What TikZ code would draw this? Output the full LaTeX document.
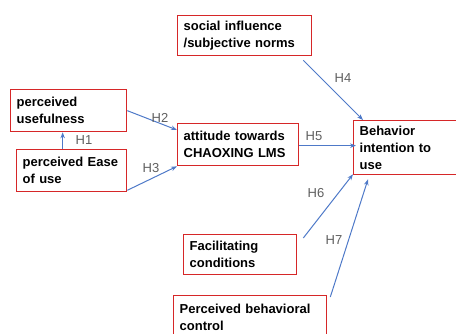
\documentclass[tikz,border=0pt]{standalone}
\usepackage{fontspec}
\setmainfont{Liberation Sans}
\usetikzlibrary{arrows.meta,calc}
\definecolor{boxred}{RGB}{214,39,40}
\definecolor{arrblue}{RGB}{78,121,200}
\definecolor{labgray}{RGB}{95,95,95}
\tikzset{
  box/.style={draw=boxred, line width=1.3pt, rectangle, anchor=north west, align=left,
    inner xsep=6pt, inner ysep=2pt, font=\bfseries\fontsize{13}{17}\selectfont, text=black},
  conn/.style={draw=arrblue, line width=1pt, -{Stealth[length=6pt,width=4.5pt]}},
  hlab/.style={text=labgray, font=\fontsize{13}{15}\selectfont, inner sep=0pt}
}
\begin{document}
\begin{tikzpicture}[x=1pt,y=-1pt]
\useasboundingbox (0,0) rectangle (456,333);
\clip (0,0) rectangle (456,333);
\node[box, text width=122pt, minimum height=40pt] (si) at (177,15) {social influence\\/subjective norms};
\node[box, text width=104pt, minimum height=42pt] (pu) at (10,89) {perceived\\usefulness};
\node[box, text width=98pt, minimum height=42pt] (pe) at (16,149) {perceived Ease\\of use};
\node[box, text width=109pt, minimum height=42pt] (at) at (177,123) {attitude towards\\CHAOXING LMS};
\node[box, text width=108pt, minimum height=54pt] (bi) at (353,120) {Behavior\\intention to\\use};
\node[box, text width=101pt, minimum height=40pt] (fc) at (183,234) {Facilitating\\conditions};
\node[box, text width=141pt, minimum height=44pt] (pb) at (173,295) {Perceived behavioral\\control};

\draw[conn] ([xshift=-9pt]pe.north) -- ([xshift=-9pt]pe.north |- pu.south);
\draw[conn] (pu.east) -- ([yshift=-7pt]at.north west);
\draw[conn] ([yshift=2pt]pe.south east) -- (at.south west);
\draw[conn] ([xshift=-9pt,yshift=-4pt]si.south east) -- ([xshift=10pt]bi.north west);
\draw[conn] ([yshift=-1pt]at.east) -- ([yshift=-1pt,xshift=3pt]at.east -| bi.west);
\draw[conn] ([xshift=6pt,yshift=-4pt]fc.north east) -- ([yshift=1pt]bi.south west);
\draw[conn] ([xshift=3pt,yshift=-2pt]pb.north east) -- ([xshift=15pt,yshift=-4pt]bi.south west);

\node[hlab] (h1) at (84,140) {H1};
\node[hlab] (h2) at (160,118) {H2};
\node[hlab] (h3) at (151,168) {H3};
\node[hlab] (h4) at (343,78) {H4};
\node[hlab] (h5) at (314,136) {H5};
\node[hlab] (h6) at (316,193) {H6};
\node[hlab] (h7) at (334,240) {H7};
\end{tikzpicture}
\end{document}
